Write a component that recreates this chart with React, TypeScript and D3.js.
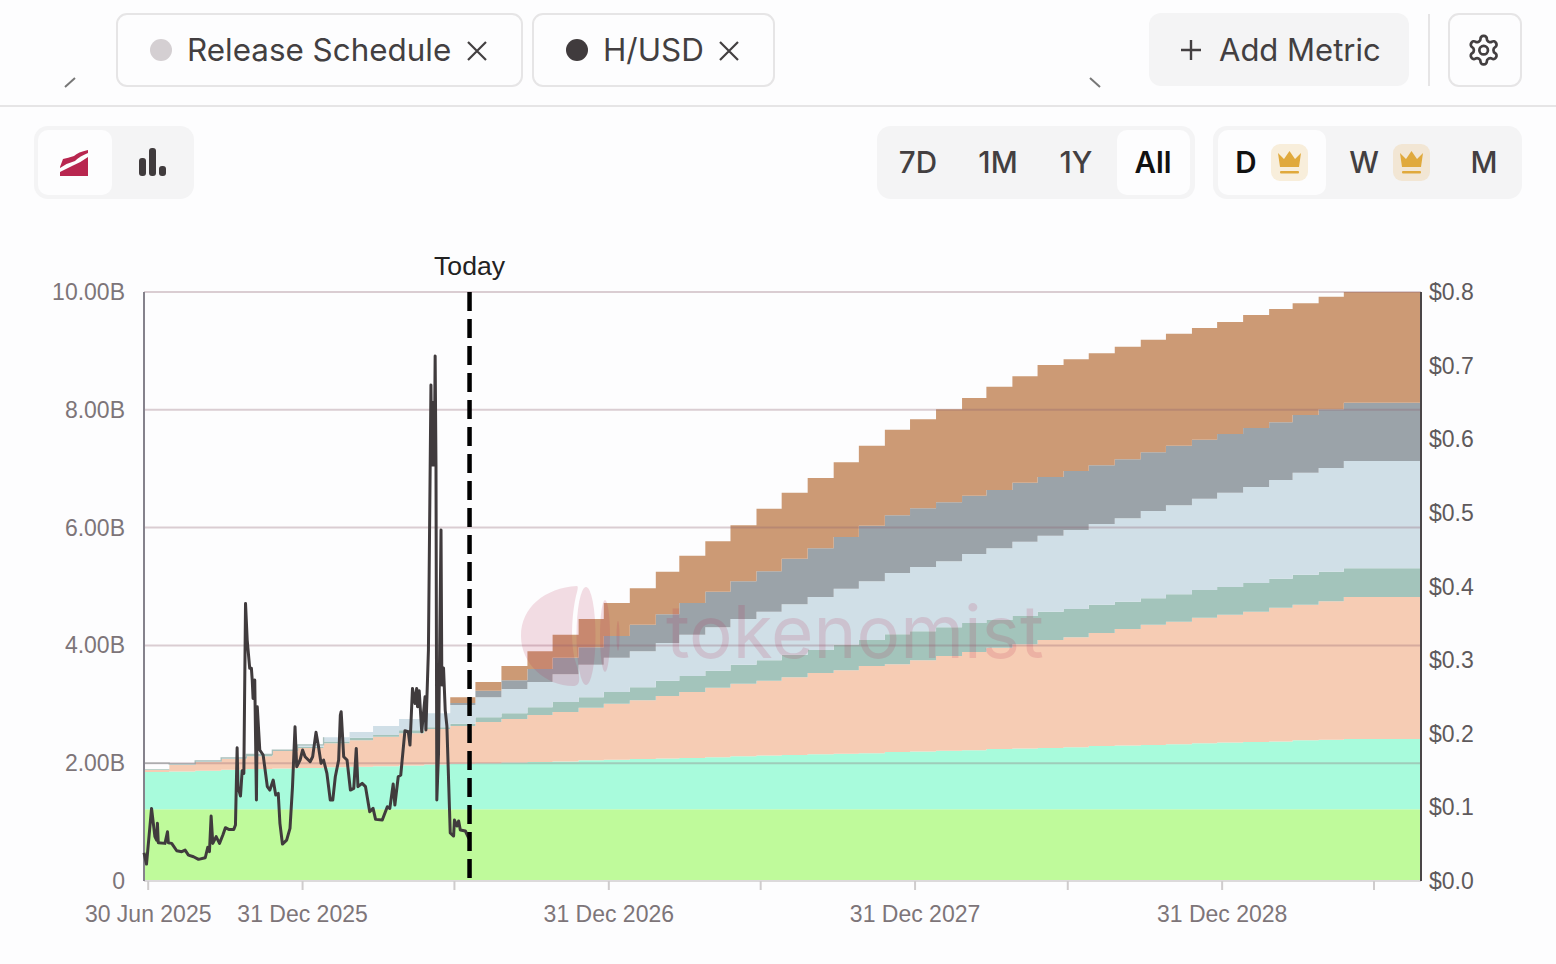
import React from "react";
import * as d3 from "d3";

// ---------- data ----------
const yTicks = [0, 2, 4, 6, 8, 10];
const yLabels = ["0", "2.00B", "4.00B", "6.00B", "8.00B", "10.00B"];
const priceTicks = [0, 0.1, 0.2, 0.3, 0.4, 0.5, 0.6, 0.7, 0.8];
const labelledTicks: [Date, string][] = [
  [new Date(2025, 5, 30), "30 Jun 2025"],
  [new Date(2025, 11, 31), "31 Dec 2025"],
  [new Date(2026, 11, 31), "31 Dec 2026"],
  [new Date(2027, 11, 31), "31 Dec 2027"],
  [new Date(2028, 11, 31), "31 Dec 2028"],
];
const plainTicks = [new Date(2026, 5, 30), new Date(2027, 5, 30), new Date(2028, 5, 30), new Date(2029, 5, 30)];
const startDate = new Date(2025, 5, 25);
const endDate = new Date(2029, 7, 25);
const todayDate = new Date(2026, 6, 18);

// cumulative unlocked supply (billions) at each monthly unlock, 25 Jun 2025 .. 25 May 2029
const baseLevel = [
  1.22, 1.22, 1.22, 1.22, 1.22, 1.22, 1.22, 1.22, 1.22, 1.22, 1.22, 1.22, 1.22, 1.22, 1.22, 1.22,
  1.22, 1.22, 1.22, 1.22, 1.22, 1.22, 1.22, 1.22, 1.22, 1.22, 1.22, 1.22, 1.22, 1.22, 1.22, 1.22,
  1.22, 1.22, 1.22, 1.22, 1.22, 1.22, 1.22, 1.22, 1.22, 1.22, 1.22, 1.22, 1.22, 1.22, 1.22, 1.22,
];
const mintLevel = [
  1.85, 1.86, 1.87, 1.89, 1.9, 1.91, 1.92, 1.93, 1.94, 1.95, 1.96, 1.98, 1.99, 2.0, 2.01, 2.02,
  2.03, 2.05, 2.06, 2.07, 2.08, 2.09, 2.1, 2.12, 2.13, 2.14, 2.15, 2.16, 2.17, 2.19, 2.2, 2.21,
  2.22, 2.24, 2.25, 2.26, 2.27, 2.29, 2.3, 2.31, 2.32, 2.34, 2.35, 2.36, 2.37, 2.39, 2.4, 2.41,
];
const peachLevel = [
  1.89, 1.97, 2.02, 2.07, 2.12, 2.21, 2.26, 2.34, 2.39, 2.45, 2.51, 2.58, 2.63, 2.7, 2.75, 2.82,
  2.87, 2.94, 3.01, 3.07, 3.14, 3.21, 3.28, 3.35, 3.4, 3.46, 3.53, 3.58, 3.65, 3.68, 3.75, 3.82,
  3.89, 3.96, 4.02, 4.09, 4.14, 4.21, 4.28, 4.35, 4.4, 4.47, 4.52, 4.57, 4.64, 4.69, 4.75, 4.82,
];
const tealLevel = [
  1.9, 1.98, 2.03, 2.08, 2.14, 2.22, 2.28, 2.37, 2.43, 2.48, 2.56, 2.61, 2.67, 2.78, 2.85, 2.95,
  3.04, 3.12, 3.21, 3.29, 3.4, 3.48, 3.57, 3.67, 3.75, 3.84, 3.92, 4.01, 4.09, 4.19, 4.24, 4.31,
  4.38, 4.43, 4.5, 4.57, 4.62, 4.69, 4.74, 4.8, 4.87, 4.94, 4.99, 5.06, 5.13, 5.2, 5.25, 5.31,
];
const blueLevel = [
  2.0, 1.99, 2.04, 2.09, 2.15, 2.22, 2.31, 2.44, 2.53, 2.63, 2.75, 2.85, 2.99, 3.12, 3.26, 3.38,
  3.51, 3.67, 3.79, 3.9, 4.04, 4.18, 4.31, 4.45, 4.57, 4.7, 4.82, 4.96, 5.09, 5.23, 5.33, 5.43,
  5.55, 5.65, 5.76, 5.86, 5.96, 6.06, 6.16, 6.28, 6.38, 6.49, 6.59, 6.69, 6.81, 6.93, 7.01, 7.13,
];
const greyLevel = [
  2.0, 1.99, 2.04, 2.09, 2.15, 2.22, 2.31, 2.44, 2.53, 2.63, 2.75, 2.85, 3.02, 3.23, 3.41, 3.6,
  3.79, 3.97, 4.16, 4.35, 4.53, 4.72, 4.91, 5.09, 5.26, 5.47, 5.65, 5.84, 6.03, 6.21, 6.33, 6.43,
  6.54, 6.64, 6.76, 6.86, 6.96, 7.06, 7.16, 7.28, 7.39, 7.49, 7.59, 7.69, 7.79, 7.91, 8.01, 8.12,
];
const brownLevel = [
  2.0, 1.99, 2.04, 2.09, 2.15, 2.22, 2.31, 2.44, 2.53, 2.63, 2.75, 2.85, 3.12, 3.38, 3.65, 3.9,
  4.18, 4.45, 4.72, 4.97, 5.25, 5.52, 5.77, 6.04, 6.32, 6.59, 6.84, 7.11, 7.39, 7.66, 7.84, 8.01,
  8.2, 8.39, 8.57, 8.76, 8.86, 8.96, 9.07, 9.19, 9.29, 9.39, 9.49, 9.61, 9.71, 9.81, 9.92, 10.0,
];

// H/USD: days since 25 Jun 2025, and the price on that day
const priceDays = [
  0, 3, 9, 13, 15, 16, 17, 25, 28, 29, 33, 39, 45, 49, 53, 59, 65, 73, 76, 78, 80, 82, 86, 90, 94, 97,
  101, 107, 109, 111, 112, 115, 117, 119, 121, 123, 126, 128, 129, 130, 132, 134, 135, 138, 142, 147,
  150, 154, 157, 160, 162, 165, 170, 174, 177, 180, 182, 186, 189, 192, 198, 201, 205, 208, 211, 214,
  218, 222, 225, 228, 232, 234, 235, 238, 242, 246, 250, 253, 255, 260, 264, 269, 273, 276, 284, 290,
  293, 297, 299, 303, 306, 311, 315, 317, 320, 323, 325, 326, 328, 331, 335, 336, 339, 342, 343, 344,
  345, 346, 347, 348, 349, 351, 354, 355, 357, 359, 361, 365, 369, 370, 373, 375, 377, 383, 387, 389,
];
const priceValues = [
  0.0384, 0.023, 0.0986, 0.0602, 0.0556, 0.0783, 0.052, 0.0511, 0.0669, 0.052, 0.0511, 0.0411, 0.0398,
  0.042, 0.0352, 0.033, 0.0294, 0.0316, 0.0457, 0.0398, 0.0882, 0.0511, 0.0602, 0.0511, 0.0624, 0.0724,
  0.0701, 0.0701, 0.076, 0.181, 0.1281, 0.1154, 0.1498, 0.1462, 0.377, 0.3272, 0.2888, 0.2888, 0.2729,
  0.248, 0.2729, 0.11, 0.2367, 0.1779, 0.1711, 0.1281, 0.1235, 0.1371, 0.1167, 0.119, 0.0783, 0.0502,
  0.0556, 0.0715, 0.1281, 0.2095, 0.1552, 0.1643, 0.1779, 0.1688, 0.162, 0.1688, 0.2019, 0.1824, 0.1598,
  0.1643, 0.1462, 0.11, 0.11, 0.1416, 0.1643, 0.2254, 0.2299, 0.1688, 0.1643, 0.1235, 0.1258, 0.1801,
  0.1281, 0.1326, 0.1281, 0.0941, 0.0986, 0.0837, 0.0828, 0.1009, 0.0986, 0.1317, 0.1032, 0.1416, 0.1439,
  0.2041, 0.2027, 0.1846, 0.2616, 0.2412, 0.2616, 0.2367, 0.2585, 0.2027, 0.2503, 0.205, 0.3137, 0.6736,
  0.5649, 0.65, 0.5649, 0.5649, 0.713, 0.5649, 0.11, 0.1725, 0.4767, 0.2662, 0.2893, 0.2322, 0.2105,
  0.0652, 0.0611, 0.0828, 0.0747, 0.0815, 0.0693, 0.0679, 0.0584, 0.0584,
];

const bands = [
  { name: "base", fill: "#bffa9b", lower: null, upper: baseLevel },
  { name: "mint", fill: "#a8fbdc", lower: baseLevel, upper: mintLevel },
  { name: "peach", fill: "#f6ccb4", lower: mintLevel, upper: peachLevel },
  { name: "teal", fill: "#a3c4bb", lower: peachLevel, upper: tealLevel },
  { name: "blue", fill: "#d0dfe7", lower: tealLevel, upper: blueLevel },
  { name: "grey", fill: "#9ba3a9", lower: blueLevel, upper: greyLevel },
  { name: "brown", fill: "#cc9a75", lower: greyLevel, upper: brownLevel },
];

const FONT = "Inter, 'Noto Sans', sans-serif";
const AXIS_FONT = "'Liberation Sans', Arial, sans-serif";
const INK = "#433f41";

function Close({ cx, cy }: { cx: number; cy: number }) {
  const r = 9;
  return (
    <path d={`M${cx - r},${cy - r}L${cx + r},${cy + r}M${cx + r},${cy - r}L${cx - r},${cy + r}`} stroke={INK} strokeWidth={2.2} fill="none" />
  );
}

function Crown({ x, y, bg }: { x: number; y: number; bg: string }) {
  return (
    <g transform={`translate(${x},${y})`}>
      <rect width={37} height={37} rx={9} fill={bg} />
      <path d="M7,9 L13,15 L18.5,7 L24,15 L30,9 L28,23 L9,23 Z" fill="#e0a93c" />
      <rect x={9} y={27} width={19} height={2.6} rx={1} fill="#e0a93c" />
    </g>
  );
}

export default function App() {
  const width = 1556;
  const height = 964;
  const left = 144;
  const right = 1421;
  const top = 292;
  const bottom = 881;

  const x = d3.scaleTime().domain([startDate, endDate]).range([left, right]);
  const y = d3.scaleLinear().domain([0, 10]).range([bottom, top]);
  const yPrice = d3.scaleLinear().domain([0, 0.8]).range([bottom, top]);

  const stepDates = baseLevel.map((_, i) => new Date(2025, 5 + i, 25));
  const extend = (arr: number[]) => [...arr, arr[arr.length - 1]];
  const dates = [...stepDates, endDate];

  const bandPath = (lower: number[] | null, upper: number[]) => {
    const up = extend(upper);
    const lo = lower ? extend(lower) : null;
    return d3
      .area<number>()
      .curve(d3.curveStepAfter)
      .x((i) => x(dates[i]))
      .y0((i) => y(lo ? lo[i] : 0))
      .y1((i) => y(up[i]))(d3.range(dates.length)) as string;
  };

  const outline = d3
    .line<number>()
    .curve(d3.curveStepAfter)
    .x((i) => x(dates[i]))
    .y((i) => y(blueLevel[i]))(d3.range(8)) as string;

  const priceLine = d3
    .line<number>()
    .x((d) => x(d3.timeDay.offset(startDate, d)))
    .y((_, i) => yPrice(priceValues[i]))(priceDays) as string;

  const tx = x(todayDate);

  return (
    <svg
      width={width}
      height={height}
      viewBox={`0 0 ${width} ${height}`}
      style={{ position: "absolute", left: 0, top: 0, background: "#fdfdfe", fontFamily: FONT }}
    >
      {/* header */}
      <path d="M65,87L75,78" stroke="#777" strokeWidth={2} />
      <path d="M1090,78L1100,87" stroke="#777" strokeWidth={2} />
      <rect x={117} y={14} width={405} height={72} rx={10} fill="#fdfdfe" stroke="#e6e5e6" strokeWidth={2} />
      <circle cx={161} cy={50} r={11} fill="#d4cfd2" />
      <text x={187} y={61} fontSize={31.4} fill={INK}>Release Schedule</text>
      <Close cx={477} cy={51} />
      <rect x={533} y={14} width={241} height={72} rx={10} fill="#fdfdfe" stroke="#e6e5e6" strokeWidth={2} />
      <circle cx={577} cy={50} r={11} fill="#403b3d" />
      <text x={603} y={61} fontSize={31.4} fill={INK}>H/USD</text>
      <Close cx={729} cy={51} />
      <rect x={1149} y={13} width={260} height={73} rx={12} fill="#f4f4f5" />
      <path d="M1181,50H1201M1191,40V60" stroke={INK} strokeWidth={2.4} />
      <text x={1219} y={61} fontSize={31} fill={INK}>Add Metric</text>
      <line x1={1429} x2={1429} y1={14} y2={86} stroke="#e6e5e6" strokeWidth={2} />
      <rect x={1449} y={14} width={72} height={72} rx={10} fill="#fdfdfe" stroke="#e6e5e6" strokeWidth={2} />
      <g transform="translate(1466.5,33) scale(1.43)" fill="none" stroke={INK} strokeWidth={1.9}>
        <path d="M12.22 2h-.44a2 2 0 0 0-2 2v.18a2 2 0 0 1-1 1.73l-.43.25a2 2 0 0 1-2 0l-.15-.08a2 2 0 0 0-2.73.73l-.22.38a2 2 0 0 0 .73 2.73l.15.1a2 2 0 0 1 1 1.72v.51a2 2 0 0 1-1 1.74l-.15.09a2 2 0 0 0-.73 2.73l.22.38a2 2 0 0 0 2.73.73l.15-.08a2 2 0 0 1 2 0l.43.25a2 2 0 0 1 1 1.73V20a2 2 0 0 0 2 2h.44a2 2 0 0 0 2-2v-.18a2 2 0 0 1 1-1.73l.43-.25a2 2 0 0 1 2 0l.15.08a2 2 0 0 0 2.73-.73l.22-.39a2 2 0 0 0-.73-2.73l-.15-.08a2 2 0 0 1-1-1.74v-.5a2 2 0 0 1 1-1.74l.15-.09a2 2 0 0 0 .73-2.73l-.22-.38a2 2 0 0 0-2.73-.73l-.15.08a2 2 0 0 1-2 0l-.43-.25a2 2 0 0 1-1-1.73V4a2 2 0 0 0-2-2z" />
        <circle cx={12} cy={12} r={3} />
      </g>
      <line x1={0} x2={width} y1={106} y2={106} stroke="#e6e5e6" strokeWidth={2} />

      {/* toolbar */}
      <rect x={34} y={126} width={160} height={73} rx={14} fill="#f4f4f5" />
      <rect x={38} y={130} width={74} height={65} rx={10} fill="#fdfdfe" />
      <path d="M60,176V172Q66,169 72,166Q80,163 88,157V176Z" fill="#b8264f" />
      <path d="M60,167L63,159Q68,158 74,156Q78,152 88,150V153Q80,156 75,161Q67,163 60,168Z" fill="#b8264f" />
      <rect x={139} y={158} width={7} height={18} rx={3} fill="#403b3d" />
      <rect x={149} y={148} width={7} height={28} rx={3} fill="#403b3d" />
      <rect x={159} y={166} width={7} height={10} rx={3} fill="#403b3d" />

      <rect x={877} y={126} width={318} height={73} rx={14} fill="#f4f4f5" />
      <rect x={1117} y={130} width={73} height={65} rx={10} fill="#fdfdfe" />
      <g fontSize={29.6} fontWeight={500} textAnchor="middle" fill={INK}>
        <text x={918} y={173}>7D</text>
        <text x={998} y={173}>1M</text>
        <text x={1076} y={173}>1Y</text>
        <text x={1153} y={173} fontWeight={600} fill="#111">All</text>
      </g>
      <rect x={1213} y={126} width={309} height={73} rx={14} fill="#f4f4f5" />
      <rect x={1218} y={130} width={108} height={65} rx={10} fill="#fdfdfe" />
      <g fontSize={29.6} fontWeight={500} textAnchor="middle" fill={INK}>
        <text x={1246} y={173} fontWeight={600} fill="#111">D</text>
        <text x={1364} y={173}>W</text>
        <text x={1484} y={173}>M</text>
      </g>
      <Crown x={1271} y={144} bg="#f8eedb" />
      <Crown x={1393} y={144} bg="#f2e6d4" />

      {/* stacked release schedule */}
      {bands.map((b) => (
        <path key={b.name} d={bandPath(b.lower, b.upper)} fill={b.fill} />
      ))}
      <rect
        x={x(stepDates[0])}
        width={x(stepDates[1]) - x(stepDates[0])}
        y={y(blueLevel[0])}
        height={y(tealLevel[0]) - y(blueLevel[0])}
        fill="#fdfdfe"
      />
      <path d={outline} fill="none" stroke="#a9bfba" strokeWidth={1.3} />

      {/* grid */}
      {yTicks.map((t) => (
        <line key={t} x1={left} x2={right} y1={y(t)} y2={y(t)} stroke="#8c5f6c" strokeOpacity={t === 0 ? 0.2 : 0.3} strokeWidth={2} />
      ))}

      {/* watermark */}
      <g fill="#b8264f" opacity={0.15}>
        <path d="M577,586 C545,588 521,607 521,636 C521,664 546,686 573,686 C582,686 580,676 575,660 C570,640 572,610 577,592 C578,588 578,586 577,586 Z" />
        <ellipse cx={586} cy={636} rx={9.5} ry={49} />
        <ellipse cx={605} cy={636} rx={5} ry={36} />
        <ellipse cx={618} cy={636} rx={1.5} ry={15} />
        <text x={666} y={658} fontSize={72.8} fontWeight={400} fontFamily={FONT}>tokenomist</text>
      </g>

      {/* x axis */}
      <line x1={left} x2={right} y1={bottom} y2={bottom} stroke="#dcdadb" strokeWidth={2} />
      {labelledTicks.map(([d, label]) => (
        <g key={label}>
          <line x1={x(d)} x2={x(d)} y1={bottom} y2={bottom + 9} stroke="#cfcccd" strokeWidth={2} />
          <text x={x(d)} y={922} textAnchor="middle" fontSize={23} fontFamily={AXIS_FONT} fill="#7d7579">{label}</text>
        </g>
      ))}
      {plainTicks.map((d) => (
        <line key={d.getTime()} x1={x(d)} x2={x(d)} y1={bottom} y2={bottom + 9} stroke="#cfcccd" strokeWidth={2} />
      ))}

      {/* y axes */}
      <line x1={left} x2={left} y1={top} y2={bottom} stroke="#85828c" strokeWidth={2} />
      <line x1={right} x2={right} y1={top} y2={bottom} stroke="#4a4648" strokeWidth={2} />
      {yTicks.map((t, i) => (
        <text key={t} x={125} y={y(t) + 8} textAnchor="end" fontSize={23} fontFamily={AXIS_FONT} fill="#7d7579">{yLabels[i]}</text>
      ))}
      {priceTicks.map((t) => (
        <text key={t} x={1429} y={yPrice(t) + 8} fontSize={23} fontFamily={AXIS_FONT} fill="#5f5a5c">{`$${t.toFixed(1)}`}</text>
      ))}

      {/* price line */}
      <path d={priceLine} fill="none" stroke="#403b3d" strokeWidth={3} strokeLinejoin="round" />

      {/* today */}
      <line x1={tx} x2={tx} y1={top} y2={bottom} stroke="#000" strokeWidth={4.5} strokeDasharray="19 8" />
      <text x={tx} y={275} textAnchor="middle" fontSize={26.6} fontFamily={AXIS_FONT} fill="#222">Today</text>
    </svg>
  );
}
